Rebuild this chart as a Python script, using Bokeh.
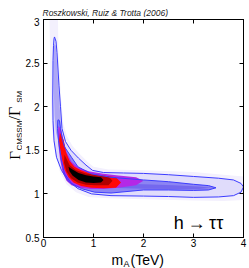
from bokeh.plotting import figure
from bokeh.models import LinearAxis, FixedTicker
from bokeh.layouts import row, column
from bokeh.core.properties import value
from bokeh.embed import file_html
from bokeh.resources import INLINE
import math

# ---- data ----
x_ticks = [0, 1, 2, 3, 4]
y_ticks = [0.5, 1, 1.5, 2, 2.5, 3]
y_tick_labels = ["0.5", "1", "1.5", "2", "2.5", "3"]

# light haze around the posterior
haze_x = [0.12, 0.29, 0.30, 0.35, 0.40, 0.47, 0.58, 0.72, 0.88, 1.0, 1.3, 2.0, 3.0, 3.6, 4.0,
          4.0, 3.6, 3.0, 2.0, 1.3, 0.9, 0.65, 0.46, 0.33, 0.24, 0.17, 0.14, 0.12]
haze_y = [3.0, 3.0, 2.6, 2.1, 1.8, 1.66, 1.55, 1.46, 1.37, 1.31, 1.28, 1.27, 1.25, 1.22, 1.2,
          0.93, 0.92, 0.925, 0.94, 0.95, 0.965, 1.02, 1.11, 1.25, 1.45, 1.75, 2.2, 3.0]

# outer contour
outer_x = [0.22, 0.25, 0.27, 0.31, 0.34, 0.37, 0.44, 0.55, 0.70, 0.85, 0.98, 1.20, 1.6, 2.0, 2.5,
           3.0, 3.5, 3.8, 3.95, 4.0, 3.95, 3.8, 3.5, 3.0, 2.5, 2.0, 1.35, 0.96, 0.69, 0.49, 0.36,
           0.26, 0.21, 0.19, 0.185, 0.19, 0.20, 0.21]
outer_y = [2.80, 2.75, 2.62, 2.24, 2.0, 1.75, 1.60, 1.50, 1.41, 1.33, 1.27, 1.245, 1.24, 1.235, 1.22,
           1.20, 1.18, 1.16, 1.12, 1.08, 1.02, 0.98, 0.965, 0.96, 0.97, 0.975, 0.98, 1.0, 1.06, 1.15, 1.27,
           1.42, 1.61, 1.84, 2.10, 2.53, 2.70, 2.78]

# vertical arm (medium density)
arm_x = [0.215, 0.245, 0.27, 0.30, 0.33, 0.35, 0.33, 0.29, 0.25, 0.22, 0.205, 0.20, 0.205]
arm_y = [2.72, 2.70, 2.5, 2.2, 1.95, 1.75, 1.62, 1.62, 1.7, 1.9, 2.2, 2.5, 2.68]

# inner contour
inner_x = [0.29, 0.32, 0.34, 0.38, 0.42, 0.56, 0.69, 0.96, 1.35, 2.0, 2.5, 3.0, 3.3, 3.45,
           3.3, 3.0, 2.5, 2.0, 1.35, 1.02, 0.76, 0.56, 0.42, 0.36, 0.30, 0.28, 0.285]
inner_y = [1.85, 1.84, 1.75, 1.62, 1.54, 1.42, 1.31, 1.23, 1.19, 1.16, 1.14, 1.11, 1.095, 1.07,
           1.045, 1.04, 1.045, 1.045, 1.01, 1.02, 1.06, 1.12, 1.23, 1.38, 1.61, 1.75, 1.84]

# deeper blue along the tail
tail_x = [1.3, 2.0, 2.6, 3.1, 3.35, 3.1, 2.6, 2.0, 1.3]
tail_y = [1.12, 1.11, 1.10, 1.085, 1.07, 1.055, 1.055, 1.06, 1.07]

# magenta, red, dark red and black cores
mag_x = [0.30, 0.35, 0.40, 0.46, 0.56, 0.70, 0.90, 1.20, 1.50, 1.85, 2.0, 1.85, 1.5, 1.2, 0.95,
         0.72, 0.56, 0.46, 0.38, 0.33, 0.30, 0.29]
mag_y = [1.78, 1.74, 1.62, 1.48, 1.37, 1.30, 1.26, 1.23, 1.21, 1.19, 1.15, 1.10, 1.07, 1.055, 1.055,
         1.07, 1.10, 1.15, 1.25, 1.40, 1.55, 1.70]
red_x = [0.33, 0.40, 0.45, 0.52, 0.62, 0.75, 0.95, 1.20, 1.45, 1.55, 1.45, 1.20, 0.95, 0.75, 0.60,
         0.50, 0.42, 0.37, 0.33, 0.31]
red_y = [1.70, 1.62, 1.48, 1.38, 1.31, 1.27, 1.23, 1.21, 1.19, 1.13, 1.07, 1.065, 1.07, 1.09, 1.13,
         1.19, 1.28, 1.40, 1.52, 1.62]
dred_x = [0.42, 0.52, 0.65, 0.85, 1.05, 1.30, 1.38, 1.30, 1.05, 0.85, 0.68, 0.55, 0.46, 0.41]
dred_y = [1.45, 1.33, 1.27, 1.235, 1.215, 1.20, 1.15, 1.10, 1.10, 1.105, 1.13, 1.18, 1.26, 1.36]
black_x = [0.50, 0.58, 0.70, 0.85, 1.0, 1.15, 1.2, 1.15, 1.0, 0.85, 0.70, 0.58, 0.52]
black_y = [1.31, 1.28, 1.24, 1.215, 1.20, 1.19, 1.16, 1.13, 1.125, 1.13, 1.16, 1.21, 1.26]

FONT = "Liberation Sans"

# ---- main figure ----
p = figure(width=227, height=233, x_range=(0, 4), y_range=(0.5, 3),
           output_backend="svg", toolbar_location=None,
           min_border_left=20, min_border_right=6, min_border_top=2, min_border_bottom=13)
p.grid.visible = False
p.outline_line_color = "black"
p.outline_line_width = 1

def fill(xs, ys, color):
    p.patch(xs, ys, fill_color=color, line_color=None)

fill(haze_x, haze_y, "#f3f0fd")
fill(outer_x, outer_y, "#e0dcfb")
fill(arm_x, arm_y, "#aea7f5")
fill(inner_x, inner_y, "#8c84f3")
fill(tail_x, tail_y, "#7468ee")
fill(mag_x, mag_y, "#b428e6")
fill(red_x, red_y, "#ff0808")
fill(dred_x, dred_y, "#b00000")
fill(black_x, black_y, "#000000")

p.patch(outer_x, outer_y, fill_alpha=0, line_color="#3c3cff", line_width=1)
p.patch(inner_x, inner_y, fill_alpha=0, line_color="#3c3cff", line_width=1)

for ax in (p.xaxis[0], p.yaxis[0]):
    ax.major_tick_in = 4
    ax.major_tick_out = 0
    ax.minor_tick_line_color = None
    ax.axis_line_color = "black"
    ax.major_tick_line_color = "black"
    ax.major_label_text_font = FONT
    ax.major_label_text_font_size = "10px"
    ax.major_label_text_color = "black"
p.xaxis.ticker = FixedTicker(ticks=x_ticks)
p.yaxis.ticker = FixedTicker(ticks=y_ticks)
p.yaxis.major_label_overrides = {t: s for t, s in zip(y_ticks, y_tick_labels)}
p.xaxis.major_label_standoff = 1
p.yaxis.major_label_standoff = 4

for loc, tk in (("above", x_ticks), ("right", y_ticks)):
    ax = LinearAxis(ticker=FixedTicker(ticks=tk), major_tick_in=4, major_tick_out=0,
                    minor_tick_line_color=None, major_label_text_font_size="1px",
                    major_label_overrides={t: "" for t in tk},
                    major_label_standoff=0, axis_line_color="black")
    p.add_layout(ax, loc)

p.text(x=[2.607], y=[0.672], text=["h\u2009\u2192\u2009\u03c4\u03c4"], text_font=value(FONT),
       text_font_size="18px", text_baseline="alphabetic", text_align="left", text_color="black")

# ---- text strips (title, y label, x label) ----
def strip(w, h):
    f = figure(width=w, height=h, x_range=(0, w), y_range=(0, h), output_backend="svg",
               toolbar_location=None, min_border=0)
    f.axis.visible = False
    f.grid.visible = False
    f.outline_line_color = None
    return f

def txt(f, x, y, s, size, font=FONT, style="normal", angle=0.0, color="black"):
    f.text(x=[x], y=[y], text=[s], text_font=value(font), text_font_size=size,
           text_font_style=style, angle=angle, text_color=color,
           text_baseline="alphabetic", text_align="left")

tfig = strip(249, 17)
txt(tfig, 42, 4.5, "Roszkowski, Ruiz & Trotta (2006)", "8.5px", style="italic", color="#222222")

yfig = strip(22, 233)
a = math.pi / 2
txt(yfig, 14, 83, "\u0393", "15px", font="Liberation Serif", angle=a)
txt(yfig, 18.5, 93, "CMSSM", "8px", angle=a)
txt(yfig, 14, 125, "/\u0393", "16px", font="Liberation Serif", angle=a)
txt(yfig, 18.5, 144, "SM", "8px", angle=a)

xfig = strip(249, 18)
txt(xfig, 111, 8.5, "m", "14px")
txt(xfig, 123, 5, "A", "9px")
txt(xfig, 130, 8.5, "(TeV)", "14px")

layout = column(tfig, row(yfig, p), xfig)
open("out.html", "w").write(file_html(layout, INLINE))
